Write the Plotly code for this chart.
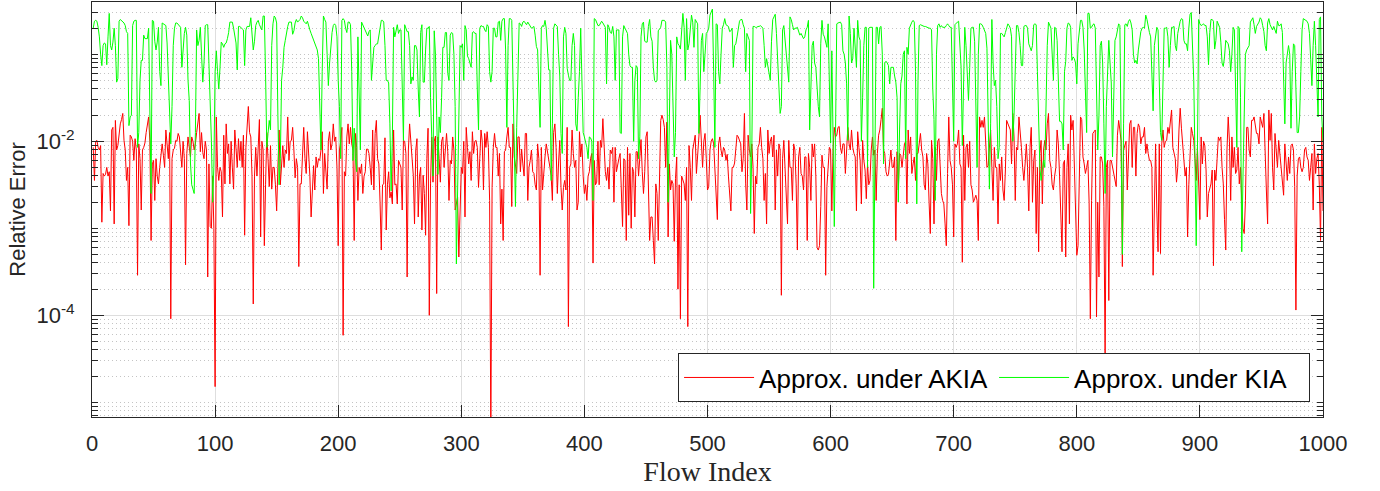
import plotly.graph_objects as go

# ---------------- data (log10 of relative error) ----------------
flow_index = list(range(1, 1001))

akia_log10 = [
    -2.07,-2.45,-2.0,-1.99,-2.07,-2.1,-2.05,-2.93,-2.37,-2.4,
    -2.38,-2.3,-2.4,-2.35,-2.8,-1.87,-1.84,-2.95,-1.76,-2.1,
    -2.05,-1.9,-1.8,-1.75,-1.68,-1.99,-2.1,-2.45,-2.3,-2.97,
    -1.93,-1.95,-2.0,-2.22,-1.97,-2.1,-3.54,-2.03,-2.2,-2.79,
    -2.1,-2.07,-2.02,-1.9,-1.8,-1.72,-2.0,-3.14,-2.26,-2.22,
    -2.68,-2.2,-2.4,-2.49,-2.3,-2.16,-2.03,-2.16,-2.3,-1.87,
    -2.1,-2.2,-1.9,-4.04,-2.2,-2.1,-2.08,-1.99,-2.0,-1.91,
    -1.95,-2.1,-2.3,-2.0,-2.2,-3.42,-2.14,-1.95,-2.07,-2.18,
    -1.95,-2.0,-2.1,-2.03,-1.9,-1.8,-1.68,-2.12,-1.9,-2.13,
    -2.2,-2.0,-2.1,-3.56,-2.26,-2.98,-3.0,-2.4,-3.0,-4.82,
    -1.72,-2.3,-2.45,-2.3,-2.35,-2.87,-1.93,-2.49,-1.8,-2.14,
    -2.03,-2.49,-2.0,-2.3,-2.55,-1.87,-2.14,-2.3,-1.97,-2.22,
    -2.0,-2.3,-1.93,-3.08,-2.07,-1.75,-1.6,-1.9,-1.95,-2.4,
    -3.87,-2.4,-2.07,-2.4,-2.05,-1.75,-3.1,-2.0,-2.1,-3.2,
    -2.5,-1.9,-2.2,-2.52,-2.05,-2.55,-2.3,-2.3,-2.5,-2.8,
    -2.3,-1.87,-2.5,-2.3,-2.05,-2.3,-2.1,-2.14,-1.72,-2.22,
    -2.0,-1.99,-1.84,-2.1,-2.42,-2.2,-2.3,-3.44,-2.49,-2.49,
    -2.1,-1.84,-2.2,-2.37,-1.89,-2.1,-2.4,-2.87,-2.6,-2.28,
    -2.56,-2.18,-2.3,-2.2,-2.22,-2.1,-1.89,-2.6,-2.14,-2.3,
    -2.55,-2.0,-1.89,-2.1,-2.03,-1.8,-2.0,-1.95,-2.3,-3.2,
    -2.1,-2.0,-1.84,-4.23,-2.35,-2.4,-1.95,-1.8,-2.03,-1.84,
    -2.03,-2.1,-3.14,-1.91,-2.07,-2.68,-2.3,-2.37,-2.26,-2.6,
    -2.4,-2.35,-2.09,-2.09,-2.14,-2.3,-2.5,-1.87,-2.56,-1.91,
    -1.76,-2.2,-2.26,-2.7,-3.25,-2.5,-2.49,-1.96,-3.02,-2.5,
    -2.35,-2.65,-2.58,-2.72,-1.87,-2.5,-2.49,-2.72,-2.22,-2.26,
    -2.3,-2.79,-1.99,-2.0,-2.14,-3.56,-2.1,-1.8,-2.0,-2.26,
    -2.39,-2.95,-2.1,-1.97,-2.87,-2.4,-2.3,-3.02,-2.39,-2.6,
    -3.08,-2.2,-1.85,-4.0,-2.49,-1.95,-2.47,-2.0,-1.94,-3.75,
    -1.95,-2.2,-2.47,-2.0,-1.95,-2.3,-2.1,-1.91,-2.12,-2.68,
    -2.22,-2.26,-1.95,-2.1,-2.79,-2.7,-2.64,-3.33,-2.68,-2.3,
    -2.37,-2.0,-2.87,-1.84,-2.07,-2.26,-2.12,-2.45,-1.89,-2.14,
    -2.0,-1.99,-2.07,-2.53,-2.2,-1.87,-2.0,-2.56,-1.91,-2.07,
    -1.89,-2.07,-2.68,-5.4,-2.53,-2.07,-1.91,-2.07,-2.07,-2.4,
    -2.14,-2.95,-2.55,-3.14,-2.12,-2.1,-1.95,-1.84,-2.07,-2.07,
    -2.75,-1.8,-2.18,-2.28,-2.37,-1.95,-1.95,-2.35,-2.09,-2.26,
    -2.4,-1.91,-1.91,-2.68,-2.3,-2.22,-2.1,-2.35,-2.37,-2.5,
    -2.56,-2.03,-2.2,-3.54,-2.07,-2.56,-2.3,-2.18,-2.03,-2.14,
    -2.2,-2.3,-2.4,-2.68,-1.9,-1.8,-2.07,-2.6,-2.25,-1.99,
    -2.53,-2.79,-2.53,-2.45,-2.56,-1.84,-4.13,-2.3,-2.26,-1.87,
    -2.14,-2.3,-2.22,-2.79,-2.7,-1.89,-2.18,-2.03,-2.4,-2.6,
    -2.5,-2.68,-2.4,-2.35,-2.2,-2.14,-3.4,-2.22,-2.5,-2.47,
    -2.0,-2.5,-1.99,-2.07,-1.74,-2.07,-2.35,-2.45,-2.3,-2.55,
    -2.1,-2.14,-2.07,-2.7,-2.07,-2.35,-2.26,-2.2,-2.14,-2.52,
    -2.98,-2.2,-2.22,-3.14,-2.07,-2.85,-2.14,-3.0,-2.3,-2.35,
    -2.87,-2.12,-2.12,-2.4,-2.2,-1.98,-2.35,-2.6,-2.35,-1.95,
    -1.89,-2.49,-3.14,-2.87,-2.87,-3.14,-3.41,-2.49,-2.6,-3.14,
    -2.4,-1.76,-1.7,-1.75,-1.84,-2.3,-1.78,-3.1,-2.26,-2.56,
    -2.45,-2.49,-3.15,-2.43,-2.18,-3.7,-2.5,-4.04,-2.4,-2.45,
    -2.49,-2.68,-2.3,-4.13,-2.05,-2.3,-2.68,-2.1,-2.03,-1.93,
    -2.37,-2.2,-1.95,-1.7,-2.07,-2.3,-2.0,-1.91,-2.2,-2.56,
    -2.52,-2.1,-2.0,-1.97,-2.03,-2.3,-2.6,-2.9,-2.03,-1.95,
    -2.1,-2.18,-2.07,-2.1,-2.22,-2.15,-2.4,-2.68,-2.8,-2.3,
    -2.3,-2.25,-2.07,-1.93,-1.95,-1.99,-2.03,-2.35,-2.2,-1.68,
    -2.49,-2.79,-1.93,-2.1,-2.18,-2.03,-2.3,-3.06,-2.4,-2.49,
    -2.07,-2.03,-1.84,-2.07,-2.2,-2.68,-2.37,-2.95,-1.87,-2.14,
    -2.0,-1.95,-2.18,-1.93,-2.79,-2.1,-2.4,-2.03,-2.1,-3.77,
    -2.2,-1.99,-2.3,-2.68,-2.95,-1.99,-2.3,-2.3,-2.68,-2.03,
    -2.1,-2.49,-3.25,-2.18,-2.07,-2.37,-2.4,-2.56,-2.18,-2.18,
    -3.14,-2.14,-2.3,-2.68,-2.03,-2.18,-2.03,-2.4,-3.22,-3.25,
    -3.2,-2.75,-2.16,-2.3,-2.3,-3.54,-2.52,-2.3,-2.07,-2.1,
    -2.8,-2.1,-1.84,-1.95,-1.93,-1.84,-1.83,-2.07,-2.14,-2.03,
    -2.03,-2.37,-2.03,-1.84,-2.03,-2.1,-1.87,-2.07,-2.14,-2.18,
    -2.8,-1.89,-2.07,-2.22,-2.72,-1.99,-2.22,-2.33,-2.66,-2.26,
    -2.5,-2.45,-2.1,-1.95,-2.16,-2.1,-2.68,-2.14,-1.93,-1.87,
    -1.75,-1.62,-2.1,-2.14,-2.35,-2.4,-2.38,-2.22,-2.1,-2.3,
    -2.3,-2.18,-3.14,-2.12,-2.56,-2.14,-2.16,-2.3,-2.14,-2.03,
    -2.0,-2.72,-1.87,-2.14,-1.95,-2.37,-2.26,-2.18,-2.45,-2.14,
    -2.14,-1.99,-1.91,-2.1,-2.18,-2.5,-2.56,-2.14,-2.26,-2.7,
    -3.06,-1.99,-2.2,-2.95,-2.07,-2.45,-2.0,-1.97,-2.3,-2.6,
    -2.68,-2.72,-2.95,-3.2,-2.37,-1.72,-2.22,-2.3,-2.5,-3.1,
    -2.03,-2.07,-2.03,-1.87,-2.26,-2.3,-3.39,-1.93,-2.68,-2.07,
    -2.03,-2.3,-2.0,-2.5,-2.56,-2.7,-2.66,-2.62,-2.68,-3.14,
    -1.72,-1.84,-1.76,-1.84,-1.72,-2.07,-2.3,-2.28,-1.99,-1.87,
    -2.3,-2.68,-2.07,-2.3,-2.3,-2.95,-2.26,-2.45,-2.18,-2.56,
    -2.68,-2.33,-1.76,-1.8,-1.84,-1.87,-2.26,-1.68,-1.95,-2.68,
    -2.07,-2.1,-1.72,-1.87,-2.07,-2.3,-2.45,-2.26,-2.03,-2.3,
    -2.8,-2.07,-1.84,-2.7,-2.22,-2.1,-3.06,-2.3,-3.27,-2.14,
    -1.99,-2.72,-2.1,-1.99,-2.1,-1.8,-1.68,-2.22,-2.3,-2.5,
    -2.56,-2.4,-2.3,-1.87,-2.03,-2.4,-2.75,-3.27,-2.26,-2.22,
    -3.33,-2.3,-2.03,-2.95,-1.7,-1.87,-1.76,-2.4,-2.68,-3.31,
    -3.2,-2.2,-1.72,-1.75,-2.18,-2.26,-2.37,-2.3,-2.22,-2.7,
    -4.04,-2.68,-1.91,-1.89,-1.87,-4.02,-2.7,-3.56,-2.18,-2.18,
    -2.26,-2.75,-4.5,-2.3,-2.22,-3.83,-2.22,-2.22,-2.3,-2.4,
    -2.45,-2.52,-1.93,-1.76,-1.87,-2.0,-3.44,-2.1,-2.05,-2.0,
    -2.56,-2.14,-1.8,-1.76,-2.3,-1.84,-1.84,-2.4,-1.91,-1.8,
    -1.84,-2.03,-1.95,-1.95,-1.84,-2.14,-2.03,-2.14,-2.22,-2.22,
    -2.3,-3.54,-2.9,-2.03,-2.8,-3.27,-2.03,-3.29,-2.03,-1.87,
    -2.07,-2.0,-1.99,-1.84,-1.91,-1.8,-1.64,-2.07,-2.14,-2.2,
    -2.47,-2.3,-1.87,-1.62,-1.85,-2.03,-2.3,-2.4,-2.3,-3.1,
    -2.5,-2.03,-1.84,-1.91,-1.99,-2.2,-2.45,-2.07,-2.5,-2.9,
    -1.95,-2.26,-2.0,-2.05,-2.33,-2.87,-2.6,-2.55,-2.49,-2.33,
    -3.43,-2.33,-2.45,-2.2,-1.95,-1.99,-1.95,-2.3,-2.49,-2.9,
    -3.25,-2.1,-1.72,-2.0,-2.68,-1.95,-2.3,-2.07,-2.37,-2.33,
    -2.07,-2.49,-2.3,-2.7,-3.0,-3.06,-2.68,-1.84,-1.84,-2.1,
    -2.18,-1.76,-1.76,-1.72,-1.8,-1.91,-1.91,-2.03,-1.72,-1.8,
    -1.84,-1.68,-2.3,-2.56,-2.95,-1.64,-1.99,-1.68,-2.3,-2.56,
    -1.91,-2.1,-2.3,-1.99,-2.14,-2.3,-2.4,-2.62,-2.03,-2.3,
    -2.45,-2.18,-2.37,-2.05,-2.03,-2.1,-2.52,-3.94,-2.4,-2.2,
    -2.18,-2.3,-2.35,-2.3,-2.1,-2.07,-2.18,-2.22,-2.45,-2.3,
    -2.14,-2.79,-2.03,-2.37,-2.2,-2.14,-2.5,-3.14,-1.84,-2.8,
]

kia_log10 = [
    -0.7,-0.62,-0.61,-0.62,-0.69,-0.8,-1.0,-1.13,-0.9,-0.87,
    -0.88,-1.12,-0.8,-0.53,-0.9,-0.95,-0.86,-0.7,-0.9,-1.32,
    -1.28,-0.62,-0.6,-0.61,-0.63,-0.64,-0.67,-0.74,-0.76,-1.82,
    -1.72,-1.7,-0.67,-0.62,-0.61,-0.61,-2.07,-1.9,-1.3,-1.07,
    -1.07,-0.78,-0.82,-0.82,-0.82,-0.7,-1.5,-2.6,-0.61,-0.62,
    -0.85,-0.95,-0.86,-0.69,-1.2,-1.36,-0.64,-0.65,-0.67,-0.67,
    -0.87,-1.3,-1.7,-2.03,-1.6,-0.9,-0.7,-0.64,-0.64,-0.66,
    -0.67,-0.69,-1.15,-0.9,-0.76,-0.69,-0.78,-1.3,-1.53,-2.25,
    -2.5,-2.55,-2.6,-1.9,-0.72,-0.9,-0.84,-0.69,-1.0,-1.32,
    -1.1,-0.67,-0.66,-0.66,-1.11,-1.53,-2.0,-2.7,-2.3,-1.2,
    -0.96,-1.2,-1.4,-1.15,-0.86,-0.88,-0.92,-0.88,-0.87,-0.82,
    -0.75,-0.63,-0.63,-0.63,-0.7,-0.78,-0.87,-1.18,-0.68,-0.68,
    -0.69,-0.7,-0.72,-1.13,-0.72,-0.68,-0.68,-0.68,-0.58,-0.74,
    -0.95,-0.85,-0.67,-0.63,-0.61,-0.66,-0.7,-0.72,-0.56,-0.56,
    -1.23,-2.07,-1.91,-1.76,-1.87,-0.9,-0.65,-0.56,-0.58,-0.64,
    -1.7,-2.5,-2.2,-1.3,-1.15,-0.92,-0.84,-0.74,-0.68,-0.63,
    -0.63,-0.63,-0.77,-0.73,-0.64,-0.6,-0.63,-0.61,-0.6,-0.56,
    -0.58,-0.62,-0.64,-0.65,-0.62,-0.68,-0.72,-0.76,-0.8,-0.84,
    -0.88,-0.92,-0.95,-1.05,-1.72,-2.1,-1.2,-0.56,-0.6,-0.63,
    -1.0,-1.36,-1.1,-0.92,-0.75,-0.67,-0.65,-0.67,-0.8,-1.3,
    -1.6,-2.2,-0.61,-0.59,-0.61,-0.7,-0.75,-0.63,-0.63,-0.66,
    -1.2,-2.22,-1.85,-2.2,-2.35,-0.8,-1.4,-2.1,-0.63,-0.66,
    -0.7,-0.72,-0.75,-0.79,-0.74,-0.72,-1.3,-1.1,-0.92,-0.9,
    -0.88,-0.88,-0.8,-0.68,-0.61,-0.61,-0.63,-0.9,-1.3,-1.3,
    -1.33,-1.8,-2.57,-1.95,-0.69,-0.8,-0.72,-0.66,-0.76,-0.72,
    -0.72,-1.6,-1.99,-0.66,-0.71,-0.74,-0.74,-0.9,-1.34,-1.26,
    -1.3,-0.9,-0.9,-0.95,-1.4,-1.72,-0.75,-0.66,-1.32,-1.32,
    -0.95,-0.7,-0.7,-0.68,-1.5,-1.87,-2.4,-0.73,-1.0,-1.7,
    -2.38,-1.72,-1.9,-1.5,-0.92,-0.92,-0.75,-0.75,-1.22,-1.3,
    -0.78,-0.75,-0.76,-1.0,-1.6,-3.41,-2.6,-1.86,-0.9,-0.92,
    -0.88,-1.3,-0.67,-0.72,-1.02,-1.05,-1.1,-1.15,-0.75,-0.74,
    -0.76,-0.76,-1.4,-1.87,-0.7,-0.67,-0.68,-0.68,-0.72,-0.74,
    -0.66,-0.68,-1.2,-1.32,-1.2,-0.7,-0.7,-0.8,-0.8,-0.63,
    -0.62,-0.84,-0.62,-0.59,-0.59,-0.95,-1.84,-0.9,-0.59,-0.59,
    -0.61,-1.5,-2.0,-2.75,-1.84,-1.05,-0.64,-0.65,-0.68,-0.63,
    -0.62,-0.64,-0.66,-0.63,-0.65,-0.68,-0.7,-0.69,-0.68,-0.78,
    -0.91,-0.95,-1.36,-1.84,-0.7,-0.67,-0.68,-0.61,-0.7,-0.9,
    -1.18,-1.18,-2.45,-1.8,-0.7,-0.65,-0.67,-0.68,-1.0,-1.25,
    -1.91,-2.14,-0.8,-0.69,-0.76,-1.16,-1.24,-1.3,-1.3,-0.9,
    -0.76,-0.9,-1.8,-1.88,-1.5,-1.2,-0.7,-1.3,-1.9,-1.95,
    -2.03,-2.07,-2.2,-1.95,-1.96,-2.0,-2.68,-0.59,-0.6,-0.65,
    -0.67,-0.67,-0.65,-0.62,-0.64,-0.67,-0.69,-1.34,-0.66,-0.69,
    -0.75,-0.76,-0.68,-0.8,-1.3,-0.72,-0.72,-0.72,-1.9,-1.91,
    -0.8,-0.67,-0.7,-0.74,-0.76,-1.0,-1.13,-1.15,-1.15,-2.0,
    -1.3,-1.13,-1.15,-2.2,-1.95,-0.8,-0.65,-0.63,-0.85,-0.86,
    -0.86,-0.68,-0.6,-0.8,-0.85,-1.15,-1.3,-1.32,-1.3,-0.73,
    -0.7,-0.69,-0.61,-0.61,-0.61,-0.63,-1.15,-2.7,-1.8,-0.84,
    -1.0,-1.5,-2.18,-1.9,-0.8,-0.88,-0.9,-0.94,-0.68,-0.53,
    -0.69,-1.3,-0.59,-0.95,-0.88,-0.7,-0.55,-0.63,-0.92,-0.6,
    -0.63,-0.65,-1.91,-1.4,-0.84,-0.76,-1.2,-1.0,-0.76,-0.74,
    -0.7,-0.55,-0.5,-0.48,-1.2,-2.07,-0.65,-0.66,-1.2,-1.34,
    -1.0,-0.7,-0.66,-0.59,-0.66,-0.67,-0.68,-0.74,-0.73,-0.7,
    -1.15,-0.9,-0.88,-0.8,-0.69,-0.62,-0.6,-0.6,-0.66,-0.7,
    -1.2,-0.76,-0.8,-0.84,-2.83,-2.1,-0.68,-0.68,-0.69,-0.69,
    -0.68,-0.68,-0.67,-0.68,-0.7,-0.9,-1.15,-1.05,-1.13,-1.2,
    -1.3,-0.85,-0.6,-0.57,-0.54,-0.76,-1.1,-1.3,-1.68,-1.6,
    -0.72,-0.67,-0.84,-1.0,-1.25,-1.32,-0.57,-0.6,-0.66,-0.72,
    -0.7,-0.7,-0.69,-0.75,-0.78,-0.76,-0.8,-0.82,-0.8,-0.72,
    -0.69,-0.61,-1.87,-1.2,-0.9,-0.85,-1.1,-1.15,-1.4,-1.6,
    -1.72,-0.88,-0.61,-0.77,-0.8,-0.88,-0.92,-0.65,-1.5,-2.02,
    -0.96,-1.9,-2.98,-1.9,-0.65,-0.64,-0.63,-0.63,-0.66,-0.96,
    -1.0,-1.1,-1.34,-1.99,-0.56,-0.76,-1.1,-1.05,-0.7,-0.92,
    -1.15,-0.61,-0.8,-0.84,-2.0,-1.5,-0.9,-0.69,-0.69,-2.3,
    -0.7,-0.69,-0.69,-0.69,-3.69,-1.91,-0.69,-0.69,-0.88,-0.69,
    -0.68,-1.0,-2.26,-1.1,-1.08,-1.1,-1.13,-1.34,-1.15,-1.15,
    -1.15,-1.25,-1.32,-1.5,-2.7,-1.87,-1.34,-1.25,-1.0,-0.96,
    -2.2,-0.92,-1.0,-0.7,-0.66,-0.63,-0.61,-0.63,-1.2,-2.72,
    -1.3,-0.67,-0.66,-0.67,-0.68,-0.68,-0.68,-0.69,-0.7,-0.7,
    -0.7,-0.72,-1.4,-1.75,-2.68,-1.0,-0.67,-0.65,-0.69,-0.67,
    -0.69,-0.69,-0.69,-0.67,-0.65,-0.67,-0.69,-0.69,-1.2,-2.0,
    -0.66,-0.64,-0.63,-0.62,-0.9,-1.15,-2.05,-1.3,-0.69,-0.9,
    -1.15,-1.53,-1.15,-0.7,-0.69,-0.69,-0.85,-1.53,-2.3,-1.0,
    -0.65,-0.65,-0.66,-0.69,-0.72,-0.76,-0.93,-2.0,-2.55,-1.8,
    -0.6,-1.1,-1.36,-1.3,-1.6,-2.2,-2.07,-0.76,-0.76,-0.78,
    -0.8,-0.75,-0.69,-0.65,-0.67,-0.7,-0.8,-2.0,-1.7,-1.2,
    -0.67,-0.67,-0.75,-0.9,-1.13,-1.13,-0.68,-0.67,-0.67,-0.7,
    -0.88,-0.92,-0.96,-0.9,-0.66,-0.65,-0.66,-1.2,-1.91,-2.3,
    -2.45,-2.3,-2.22,-2.3,-1.6,-0.9,-0.63,-0.68,-0.7,-1.0,
    -1.3,-0.69,-0.7,-0.84,-1.5,-1.77,-1.77,-1.8,-2.1,-1.2,
    -1.08,-0.7,-0.64,-0.65,-0.69,-1.07,-1.03,-1.05,-1.1,-1.34,
    -0.88,-0.74,-0.61,-0.61,-0.69,-0.95,-1.6,-1.9,-0.53,-0.53,
    -0.7,-0.69,-0.66,-0.65,-0.7,-1.5,-2.1,-1.7,-0.9,-0.85,
    -1.1,-1.8,-2.6,-1.6,-1.3,-0.84,-1.1,-1.33,-2.18,-1.3,
    -0.84,-0.8,-0.7,-0.65,-0.67,-2.3,-3.3,-1.8,-0.66,-0.65,
    -0.68,-0.62,-0.6,-0.64,-0.72,-1.0,-1.1,-1.07,-1.11,-0.95,
    -0.8,-0.74,-0.7,-0.69,-0.7,-0.55,-0.6,-0.7,-0.75,-0.8,
    -1.3,-1.65,-0.9,-0.76,-0.69,-0.72,-1.2,-1.9,-1.99,-1.4,
    -0.7,-0.7,-0.69,-0.8,-1.15,-0.9,-0.69,-0.69,-0.68,-0.9,
    -0.96,-0.76,-0.67,-0.62,-0.59,-0.6,-0.84,-0.88,-0.88,-0.96,
    -0.7,-0.54,-0.52,-0.9,-1.3,-2.2,-3.2,-2.1,-0.6,-0.65,
    -0.67,-0.66,-0.65,-0.67,-0.67,-0.8,-1.12,-0.75,-0.6,-0.6,
    -0.62,-0.94,-0.84,-0.62,-0.67,-0.69,-0.86,-1.1,-1.14,-1.03,
    -0.84,-0.86,-0.88,-0.96,-1.2,-1.0,-0.69,-0.72,-1.53,-2.07,
    -0.68,-0.7,-1.5,-3.27,-2.4,-1.6,-1.0,-0.95,-0.92,-0.9,
    -0.63,-0.6,-0.58,-0.66,-0.76,-0.68,-0.66,-0.63,-0.58,-0.6,
    -0.67,-0.74,-0.9,-0.96,-0.64,-0.59,-0.66,-0.7,-0.72,-0.68,
    -0.72,-0.76,-0.62,-0.67,-0.67,-0.65,-0.75,-1.3,-1.8,-1.1,
    -1.0,-0.9,-1.0,-1.85,-1.2,-0.88,-0.9,-1.4,-1.9,-1.9,
    -1.72,-1.2,-0.72,-0.59,-0.6,-0.6,-0.62,-0.65,-0.76,-1.06,
    -1.36,-0.9,-0.62,-0.9,-1.3,-1.72,-0.6,-0.57,-1.72,-2.0,
]

series_names = ["Approx. under AKIA", "Approx. under KIA"]
series_colors = ["#ff0000", "#00ff00"]
x_tick_vals = [0, 100, 200, 300, 400, 500, 600, 700, 800, 900, 1000]
y_tick_vals = [1e-4, 1e-2]
y_tick_text = ["10<sup>-4</sup>", "10<sup>-2</sup>"]
y_minor_vals = [m * 10.0 ** e for e in range(-6, 0) for m in range(1, 10)
                if not (m == 1 and e in (-4, -2))]

akia_err = [10.0 ** v for v in akia_log10]
kia_err = [10.0 ** v for v in kia_log10]

# ---------------- figure ----------------
axis_color = "#262626"
fig = go.Figure()
for yvals, name, color in zip([akia_err, kia_err], series_names, series_colors):
    fig.add_trace(go.Scatter(x=flow_index, y=yvals, mode="lines", name=name,
                             line=dict(color=color, width=1)))

fig.update_layout(
    width=1380, height=491,
    margin=dict(l=92, r=57, t=2, b=74, autoexpand=False),
    paper_bgcolor="white", plot_bgcolor="white",
    font=dict(family="Liberation Sans, Arial, sans-serif", size=22, color=axis_color),
    showlegend=True,
    legend=dict(orientation="h", x=0.9895, xanchor="right", y=0.036, yanchor="bottom",
                bgcolor="white", bordercolor=axis_color, borderwidth=1,
                font=dict(size=26, color="black"), itemwidth=70, entrywidth=230,
                tracegroupgap=0),
    xaxis=dict(range=[0, 1000], tickvals=x_tick_vals, ticks="inside", ticklen=12,
               tickcolor=axis_color, showline=True, linecolor=axis_color, linewidth=1,
               mirror="ticks", showgrid=True, gridcolor="#dedede", gridwidth=1,
               zeroline=False, automargin=False, ticklabelstandoff=7,
               tickfont=dict(size=22, color=axis_color),
               title=dict(text="Flow Index", standoff=3,
                          font=dict(family="Liberation Serif, serif", size=28, color=axis_color))),
    yaxis=dict(type="log", range=[-5.169, -0.399], tickmode="array", tickvals=y_tick_vals,
               ticktext=y_tick_text, ticks="inside", ticklen=12, tickcolor=axis_color,
               showline=True, linecolor=axis_color, linewidth=1, mirror="ticks",
               showgrid=True, gridcolor="#dedede", gridwidth=1, zeroline=False,
               automargin=False, ticklabelstandoff=12,
               tickfont=dict(size=22, color=axis_color),
               minor=dict(tickmode="array", tickvals=y_minor_vals, ticks="inside", ticklen=6,
                          tickcolor=axis_color, showgrid=True, gridcolor="#c4c4c4",
                          griddash="1px,3px", gridwidth=1),
               title=dict(text="Relative Error", standoff=4,
                          font=dict(size=22, color=axis_color))),
)

# remove the default 8px page margin so the figure sits at the window's top-left corner
fig.write_html("out.html", config={"displayModeBar": False},
               post_script="document.body.style.margin='0px';")
